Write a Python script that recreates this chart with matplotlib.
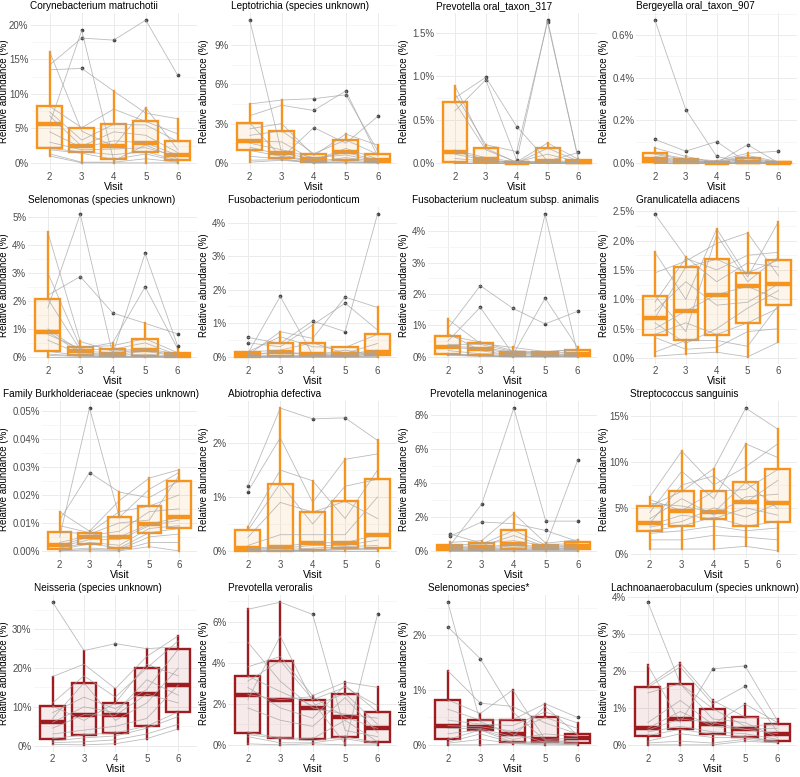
import numpy as np
import matplotlib.pyplot as plt
from matplotlib.ticker import MultipleLocator, FuncFormatter
from matplotlib.colors import to_rgba

plt.rcParams['font.family'] = ['Liberation Sans', 'DejaVu Sans']

visits = [2, 3, 4, 5, 6]

titles = [
    "Corynebacterium matruchotii", "Leptotrichia (species unknown)",
    "Prevotella oral_taxon_317", "Bergeyella oral_taxon_907",
    "Selenomonas (species unknown)", "Fusobacterium periodonticum",
    "Fusobacterium nucleatum subsp. animalis", "Granulicatella adiacens",
    "Family Burkholderiaceae (species unknown)", "Abiotrophia defectiva",
    "Prevotella melaninogenica", "Streptococcus sanguinis",
    "Neisseria (species unknown)", "Prevotella veroralis",
    "Selenomonas species*", "Lachnoanaerobaculum (species unknown)",
]

# relative abundance (%), one row per subject, columns = visits 2..6
coryne = np.array([
    [14.2, 18.1, 17.8, 20.7, 12.7], [13.5, 13.7, 10.4, 7.2, 6.4],
    [5.7, 19.2, 0.3, 2.6, 0.6], [16.1, 4.6, 2.4, 8.0, 1.9],
    [8.2, 5.1, 7.8, 6.0, 4.2], [7.4, 3.3, 5.6, 5.5, 3.1],
    [6.8, 2.4, 4.5, 4.0, 1.5], [4.5, 2.2, 3.2, 2.9, 1.1],
    [3.0, 1.9, 2.0, 2.2, 0.9], [2.1, 1.6, 1.2, 1.6, 0.4],
    [1.9, 1.4, 0.5, 1.3, 0.2], [1.3, 0.1, 0.1, 0.6, 0.1],
    [1.0, 0.0, 0.0, 0.0, 0.0]])
lepto = np.array([
    [10.9, 0.75, 0.3, 0.8, 0.2], [4.5, 4.8, 4.9, 5.2, 0.9],
    [3.6, 4.4, 4.0, 5.5, 0.5], [3.05, 0.4, 2.7, 1.5, 3.55],
    [2.6, 3.0, 0.55, 2.2, 1.35], [2.1, 2.45, 0.7, 1.75, 0.65],
    [1.7, 1.6, 0.2, 1.1, 0.3], [1.5, 1.0, 0.4, 0.6, 0.15],
    [1.2, 0.6, 0.1, 0.4, 0.1], [0.95, 0.5, 0.05, 0.25, 0.05],
    [0.5, 0.3, 0.02, 0.1, 0.02], [0.2, 0.25, 0.0, 0.05, 0.0],
    [0.05, 0.2, 0.0, 0.0, 0.0]])
prev317 = np.array([
    [0.75, 0.99, 0.42, 0.02, 0.12], [0.6, 0.96, 0.03, 1.65, 0.04],
    [0.8, 0.21, 0.13, 1.63, 0.03], [0.89, 0.17, 0.0, 0.17, 0.02],
    [0.70, 0.15, 0.01, 0.23, 0.04], [0.15, 0.06, 0.01, 0.1, 0.01],
    [0.13, 0.04, 0.0, 0.03, 0.01], [0.1, 0.03, 0.0, 0.02, 0.0],
    [0.05, 0.02, 0.0, 0.01, 0.0], [0.01, 0.01, 0.0, 0.01, 0.0],
    [0.0, 0.0, 0.0, 0.0, 0.0], [0.0, 0.0, 0.0, 0.0, 0.0],
    [0.0, 0.0, 0.0, 0.0, 0.0]])
bergey = np.array([
    [0.67, 0.25, 0.03, 0.0, 0.0], [0.11, 0.055, 0.1, 0.0, 0.005],
    [0.07, 0.03, 0.0, 0.085, 0.0], [0.045, 0.02, 0.01, 0.045, 0.055],
    [0.04, 0.015, 0.005, 0.035, 0.005], [0.03, 0.01, 0.003, 0.025, 0.003],
    [0.02, 0.01, 0.0, 0.02, 0.0], [0.015, 0.005, 0.0, 0.01, 0.0],
    [0.01, 0.005, 0.0, 0.005, 0.0], [0.005, 0.0, 0.0, 0.003, 0.0],
    [0.0, 0.0, 0.0, 0.0, 0.0], [0.0, 0.0, 0.0, 0.0, 0.0],
    [0.0, 0.0, 0.0, 0.0, 0.0]])
selen = np.array([
    [1.75, 5.1, 0.1, 3.7, 0.4], [2.2, 2.87, 1.57, 1.2, 0.82],
    [0.8, 0.3, 0.5, 2.5, 0.3], [4.45, 0.55, 0.2, 0.3, 0.1],
    [3.0, 0.35, 0.4, 0.65, 0.15], [2.07, 0.25, 0.27, 0.5, 0.07],
    [1.0, 0.2, 0.15, 0.25, 0.05], [0.9, 0.15, 0.08, 0.2, 0.03],
    [0.6, 0.1, 0.05, 0.1, 0.01], [0.2, 0.05, 0.02, 0.02, 0.0],
    [0.1, 0.03, 0.01, 0.01, 0.0], [0.05, 0.02, 0.0, 0.0, 0.0],
    [0.0, 0.0, 0.0, 0.0, 0.0]])
fuso_perio = np.array([
    [0.1, 1.8, 0.06, 0.2, 0.05], [0.05, 0.75, 0.55, 1.78, 1.47],
    [0.58, 0.4, 1.07, 0.75, 4.25], [0.42, 0.3, 0.95, 1.6, 0.8],
    [0.15, 0.6, 0.3, 0.28, 0.67], [0.15, 0.2, 0.42, 0.1, 0.4],
    [0.08, 0.1, 0.1, 0.08, 0.2], [0.07, 0.15, 0.08, 0.05, 0.15],
    [0.02, 0.05, 0.05, 0.03, 0.1], [0.0, 0.02, 0.03, 0.02, 0.08],
    [0.0, 0.01, 0.02, 0.01, 0.03], [0.0, 0.0, 0.01, 0.0, 0.02],
    [0.0, 0.0, 0.0, 0.0, 0.0]])
fuso_nuc = np.array([
    [0.9, 2.27, 1.55, 1.05, 1.45], [0.5, 1.58, 0.1, 4.55, 0.1],
    [0.75, 0.2, 0.05, 1.87, 0.3], [1.2, 0.43, 0.3, 0.17, 0.22],
    [0.68, 0.47, 0.2, 0.15, 0.25], [0.4, 0.4, 0.17, 0.12, 0.15],
    [0.33, 0.3, 0.15, 0.1, 0.08], [0.3, 0.25, 0.12, 0.08, 0.06],
    [0.2, 0.1, 0.08, 0.05, 0.04], [0.1, 0.05, 0.02, 0.03, 0.02],
    [0.08, 0.04, 0.02, 0.02, 0.01], [0.07, 0.03, 0.01, 0.01, 0.01],
    [0.05, 0.02, 0.0, 0.0, 0.0]])
granuli = np.array([
    [2.45, 1.72, 1.3, 1.62, 1.55], [1.8, 1.0, 2.2, 1.38, 2.32],
    [1.45, 1.65, 1.95, 2.13, 1.4], [1.06, 0.45, 2.1, 1.3, 1.72],
    [0.95, 1.7, 1.5, 1.75, 1.8], [0.8, 1.3, 0.9, 0.95, 1.26],
    [0.68, 1.55, 1.68, 1.45, 1.67], [0.6, 0.25, 0.5, 0.85, 1.15],
    [0.5, 0.8, 1.08, 1.22, 1.0], [0.4, 0.6, 0.4, 0.6, 0.85],
    [0.35, 0.15, 0.18, 0.45, 0.5], [0.1, 0.3, 0.3, 0.2, 0.9],
    [0.03, 0.07, 0.1, 0.02, 0.27]])
burkh = np.array([
    [0.005, 0.051, 0.012, 0.022, 0.028], [0.011, 0.028, 0.021, 0.019, 0.025],
    [0.014, 0.007, 0.018, 0.026, 0.029], [0.009, 0.0065, 0.014, 0.016, 0.02],
    [0.0068, 0.006, 0.01, 0.011, 0.027], [0.003, 0.0055, 0.007, 0.014, 0.015],
    [0.002, 0.005, 0.005, 0.0095, 0.012], [0.0015, 0.004, 0.004, 0.009, 0.011],
    [0.001, 0.003, 0.002, 0.008, 0.009], [0.0005, 0.0025, 0.001, 0.0065, 0.008],
    [0.0003, 0.001, 0.0005, 0.005, 0.006], [0.0, 0.0005, 0.0002, 0.003, 0.003],
    [0.0, 0.0, 0.0, 0.0015, 0.0]])
abiot = np.array([
    [1.2, 2.65, 2.45, 2.47, 2.05], [1.1, 2.1, 0.9, 1.7, 1.8],
    [0.45, 1.5, 1.3, 0.6, 1.5], [0.38, 1.25, 0.5, 1.2, 1.33],
    [0.25, 0.9, 0.72, 0.92, 0.6], [0.1, 0.3, 0.3, 0.3, 1.0],
    [0.05, 0.08, 0.15, 0.15, 0.3], [0.04, 0.05, 0.1, 0.1, 0.2],
    [0.02, 0.02, 0.05, 0.08, 0.1], [0.0, 0.0, 0.02, 0.05, 0.05],
    [0.0, 0.0, 0.01, 0.03, 0.04], [0.0, 0.0, 0.0, 0.02, 0.02],
    [0.0, 0.0, 0.0, 0.0, 0.0]])
prev_mel = np.array([
    [0.3, 2.75, 8.4, 1.75, 1.75], [1.0, 0.45, 0.6, 0.3, 5.35],
    [0.85, 1.7, 1.6, 1.2, 0.55], [0.5, 0.6, 2.2, 0.45, 0.65],
    [0.35, 0.4, 1.2, 0.35, 0.45], [0.25, 0.3, 0.9, 0.25, 0.35],
    [0.2, 0.2, 0.4, 0.2, 0.3], [0.15, 0.15, 0.3, 0.15, 0.2],
    [0.1, 0.1, 0.2, 0.12, 0.15], [0.05, 0.05, 0.1, 0.1, 0.1],
    [0.03, 0.04, 0.05, 0.05, 0.05], [0.02, 0.02, 0.03, 0.02, 0.03],
    [0.0, 0.0, 0.0, 0.0, 0.0]])
strep = np.array([
    [5.2, 6.8, 9.3, 15.9, 13.6], [6.2, 11.2, 7.5, 9.5, 12.0],
    [4.5, 9.0, 6.0, 12.0, 10.5], [5.9, 4.7, 6.8, 7.0, 9.2],
    [3.3, 7.5, 8.5, 5.6, 8.0], [5.5, 5.2, 4.5, 7.8, 4.9],
    [3.8, 6.0, 4.2, 6.2, 6.5], [2.9, 3.5, 5.0, 4.0, 5.5],
    [3.1, 4.2, 3.8, 5.0, 4.2], [2.5, 3.0, 4.0, 3.0, 3.5],
    [2.2, 2.5, 3.0, 2.5, 2.8], [1.5, 1.5, 2.0, 1.8, 1.5],
    [0.5, 0.5, 0.5, 0.8, 0.3]])
neisseria = np.array([
    [37.0, 24.5, 26.3, 25.0, 25.5], [17.8, 21.0, 14.7, 23.0, 28.3],
    [11.0, 18.0, 12.5, 20.0, 27.0], [8.5, 12.5, 9.5, 14.5, 24.8],
    [10.2, 6.5, 11.0, 21.0, 18.0], [7.0, 16.2, 6.5, 11.0, 20.0],
    [6.0, 10.0, 8.5, 17.0, 13.0], [4.5, 8.0, 7.8, 13.3, 11.0],
    [3.0, 4.0, 5.0, 7.0, 15.6], [1.8, 2.8, 3.3, 5.0, 8.7],
    [1.2, 2.0, 2.5, 4.5, 7.5], [0.8, 1.0, 1.5, 3.0, 5.5],
    [0.3, 0.2, 0.5, 1.8, 4.3]])
prev_ver = np.array([
    [6.6, 6.95, 6.35, 0.7, 0.4], [3.8, 4.3, 2.4, 3.05, 2.8],
    [5.0, 3.1, 1.8, 1.5, 1.3], [2.2, 5.3, 2.1, 0.05, 6.35],
    [3.1, 4.1, 2.2, 2.8, 1.9], [3.35, 2.6, 1.9, 2.5, 1.0],
    [2.8, 1.8, 1.3, 2.9, 1.6], [2.45, 2.2, 2.35, 1.35, 0.8],
    [1.8, 1.2, 0.9, 2.3, 0.6], [0.6, 0.35, 0.3, 1.2, 0.15],
    [0.5, 0.3, 0.2, 0.4, 0.1], [0.4, 0.1, 0.1, 0.3, 0.05],
    [0.05, 0.0, 0.05, 0.0, 0.0]])
selen_sp = np.array([
    [2.6, 0.42, 0.2, 0.05, 0.02], [2.15, 1.57, 0.6, 0.08, 0.05],
    [1.35, 0.76, 0.7, 0.4, 0.2], [0.82, 0.57, 1.0, 0.1, 0.12],
    [0.65, 0.45, 0.46, 0.75, 0.5], [0.45, 0.38, 0.35, 0.6, 0.4],
    [0.35, 0.33, 0.25, 0.5, 0.3], [0.3, 0.3, 0.15, 0.7, 0.18],
    [0.2, 0.28, 0.1, 0.2, 0.15], [0.1, 0.27, 0.05, 0.06, 0.08],
    [0.05, 0.2, 0.04, 0.04, 0.03], [0.03, 0.1, 0.03, 0.02, 0.01],
    [0.0, 0.0, 0.02, 0.0, 0.0]])
lachno = np.array([
    [3.85, 1.65, 0.7, 0.6, 0.2], [2.15, 0.6, 2.05, 2.13, 0.65],
    [1.6, 2.2, 1.2, 0.75, 0.7], [1.55, 2.1, 1.1, 1.58, 0.35],
    [1.4, 1.65, 0.98, 0.5, 0.56], [0.6, 1.2, 0.55, 1.1, 0.6],
    [0.45, 0.9, 0.5, 0.42, 0.3], [0.4, 0.7, 0.6, 0.42, 0.45],
    [0.35, 0.5, 0.35, 0.3, 0.15], [0.25, 0.42, 0.28, 0.22, 0.1],
    [0.1, 0.3, 0.2, 0.2, 0.08], [0.05, 0.1, 0.05, 0.15, 0.06],
    [0.0, 0.0, 0.0, 0.1, 0.05]])

panels = [coryne, lepto, prev317, bergey, selen, fuso_perio, fuso_nuc, granuli,
          burkh, abiot, prev_mel, strep, neisseria, prev_ver, selen_sp, lachno]

# y tick step and decimals per panel
steps = [5, 3, 0.5, 0.2, 1, 1, 1, 0.5, 0.01, 1, 2, 5, 10, 2, 1, 1]
decimals = [0, 0, 1, 1, 0, 0, 0, 1, 2, 0, 0, 0, 0, 0, 0, 0]

ORANGE = '#F7941D'
DARKRED = '#9E1B20'
colors = [ORANGE] * 12 + [DARKRED] * 4

W, H = 800, 777
PITCH = 194
TOP, BOT = 13, 170   # axes top / bottom inside each panel cell (px)
fig = plt.figure(figsize=(8, 7.77), dpi=100)

axes = []
for k, data in enumerate(panels):
    r, c = divmod(k, 4)
    x0, y0 = 200 * c, PITCH * r
    col = colors[k]
    ax = fig.add_axes([(x0 + 28) / W, 1 - (y0 + BOT) / H, 169 / W, (BOT - TOP) / H])

    for row in data:
        ax.plot(visits, row, color='#A5A5A5', lw=0.6, alpha=0.75, zorder=3)

    ax.boxplot([data[:, j] for j in range(len(visits))], positions=visits,
               widths=0.78, patch_artist=True, showcaps=False,
               boxprops=dict(facecolor=to_rgba(col, 0.09), edgecolor=col, lw=1.7),
               whiskerprops=dict(color=col, lw=1.7),
               medianprops=dict(color=col, lw=3.2),
               flierprops=dict(marker='o', ms=1.7, mfc='#444444', mec='#444444'),
               zorder=2)

    lo, hi = data.min(), data.max()
    span = hi - lo
    ax.set_ylim(lo - 0.05 * span, hi + 0.05 * span)
    ax.set_xlim(1.4, 6.6)
    ax.set_xticks(visits)
    ax.set_xticklabels([str(v) for v in visits])
    ax.yaxis.set_major_locator(MultipleLocator(steps[k]))
    ax.yaxis.set_minor_locator(MultipleLocator(steps[k] / 2))
    d = decimals[k]
    ax.yaxis.set_major_formatter(FuncFormatter(
        lambda v, p, d=d: f"{0 if abs(v) < 1e-12 else v:.{d}f}%"))
    ax.grid(True, which='major', color='#EBEBEB', lw=0.7, zorder=0)
    ax.grid(True, which='minor', axis='y', color='#F3F3F3', lw=0.5, zorder=0)
    ax.set_axisbelow(True)
    for s in ax.spines.values():
        s.set_visible(False)
    ax.tick_params(which='both', length=0, labelsize=7, labelcolor='#4D4D4D', pad=1.5)
    ax.set_xlabel('Visit', fontsize=7.5, labelpad=0)
    axes.append(ax)

# shift each panel so that its y tick labels fit after the axis title
fig.canvas.draw()
renderer = fig.canvas.get_renderer()
for k, ax in enumerate(axes):
    r, c = divmod(k, 4)
    x0, y0 = 200 * c, PITCH * r
    w = max(t.get_window_extent(renderer).width
            for t in ax.get_yticklabels() if t.get_text())
    left = x0 + 9 + w + 2
    ax.set_position([left / W, 1 - (y0 + BOT) / H, (x0 + 197 - left) / W,
                     (BOT - TOP) / H])
    fig.text((x0 + 4) / W, 1 - (y0 + (TOP + BOT) / 2) / H, 'Relative abundance (%)',
             rotation=90, ha='center', va='center', fontsize=7)
    t = fig.text(left / W, 1 - (y0 + 9) / H, titles[k], ha='left',
                 va='baseline', fontsize=7.2)
    tw = t.get_window_extent(renderer).width
    if left + tw > x0 + 199:
        t.set_x((x0 + 199 - tw) / W)

fig.savefig('out.png', dpi=100)
